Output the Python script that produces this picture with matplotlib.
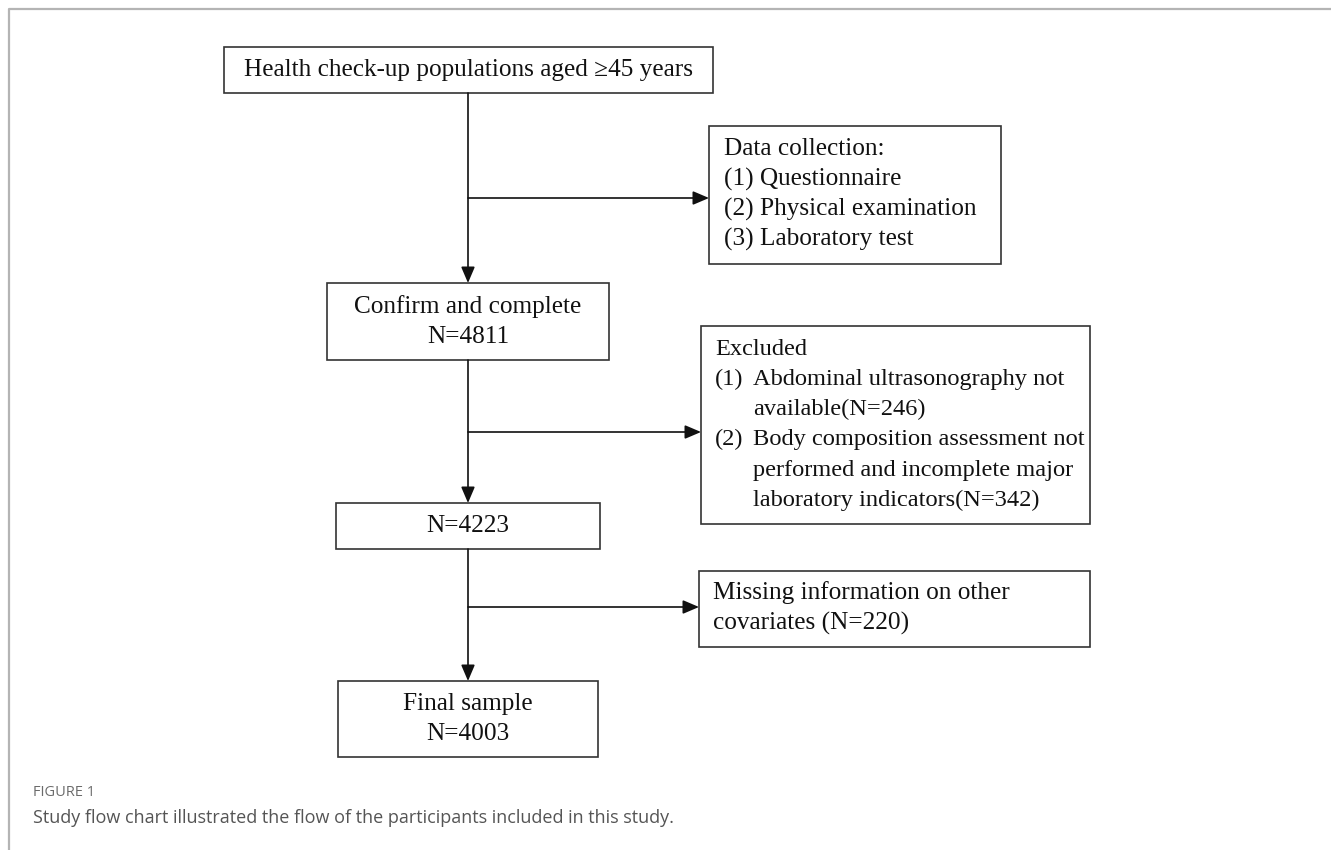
#!/usr/bin/env python3
"""
Study flow chart: participants included in the analysis.
Drawn on a pixel-sized canvas (1331 x 850) so the layout matches the figure.
"""

import matplotlib
matplotlib.use("Agg")
import matplotlib.pyplot as plt
from matplotlib.patches import Rectangle

# ---- chart content ----
main_steps = [
    ["Health check-up populations aged \u226545 years"],
    ["Confirm and complete", "N=4811"],
    ["N=4223"],
    ["Final sample", "N=4003"],
]
collect_title = "Data collection:"
collect_items = ["(1) Questionnaire", "(2) Physical examination", "(3) Laboratory test"]
excluded_title = "Excluded"
excluded_items = [
    ("(1)", ["Abdominal ultrasonography not", "available(N=246)"]),
    ("(2)", ["Body composition assessment not",
             "performed and incomplete major",
             "laboratory indicators(N=342)"]),
]
missing_lines = ["Missing information on other", "covariates (N=220)"]
fig_label = "FIGURE 1"
fig_caption = "Study flow chart illustrated the flow of the participants included in this study."

# ---- layout (pixels, y grows downwards) ----
W, H = 1331, 850
spine_x = 468
main_boxes = [(224, 47, 713, 93), (327, 283, 609, 360), (336, 503, 600, 549), (338, 681, 598, 757)]
side_boxes = [(709, 126, 1001, 264), (701, 326, 1090, 524), (699, 571, 1090, 647)]
branch_y = [198, 432, 607]
line_step = 30.3
serif = ["Liberation Serif", "DejaVu Serif"]
fs = 18.2
fs_excl = 17.6
edge = "#333333"

fig = plt.figure(figsize=(W / 100, H / 100), dpi=100)
ax = fig.add_axes([0, 0, 1, 1])
ax.set_xlim(0, W)
ax.set_ylim(H, 0)
ax.axis("off")

# page frame (left and top rules)
ax.plot([9, 9, W], [H, 9, 9], color="#b4b4b4", lw=1.6, solid_capstyle="butt")


def box(x0, y0, x1, y1):
    ax.add_patch(Rectangle((x0, y0), x1 - x0, y1 - y0, fill=False,
                           edgecolor=edge, lw=1.2))


def arrow(x0, y0, x1, y1):
    ax.annotate("", xy=(x1, y1), xytext=(x0, y0),
                arrowprops=dict(arrowstyle="-|>,head_length=0.75,head_width=0.32",
                                mutation_scale=13, color="#111111", lw=1.2,
                                shrinkA=0, shrinkB=0))


def text(x, y, s, ha="left", size=fs):
    ax.text(x, y, s, ha=ha, va="center", fontsize=size, family=serif, color="#111111")


# main column
for (x0, y0, x1, y1), lines in zip(main_boxes, main_steps):
    box(x0, y0, x1, y1)
    cy = (y0 + y1) / 2 - (len(lines) - 1) * line_step / 2
    for i, s in enumerate(lines):
        text((x0 + x1) / 2, cy + i * line_step, s, ha="center")

for upper, lower in zip(main_boxes[:-1], main_boxes[1:]):
    arrow(spine_x, upper[3], spine_x, lower[1])

# side branches
for (x0, y0, x1, y1), by in zip(side_boxes, branch_y):
    box(x0, y0, x1, y1)
    arrow(spine_x, by, x0, by)

# data collection box
bx = side_boxes[0]
for i, s in enumerate([collect_title] + collect_items):
    text(bx[0] + 15, 149 + i * line_step, s)

# excluded box with hanging indent
bx = side_boxes[1]
y = 349
text(bx[0] + 14, y, excluded_title, size=fs_excl)
for num, lines in excluded_items:
    y += line_step
    text(bx[0] + 14, y, num, size=fs_excl)
    for j, s in enumerate(lines):
        if j:
            y += line_step
        text(bx[0] + 52, y, s, size=fs_excl)

# missing covariates box
bx = side_boxes[2]
for i, s in enumerate(missing_lines):
    text(bx[0] + 14, 593 + i * line_step, s)

# caption
ax.text(33, 793, fig_label, ha="left", va="center", fontsize=10.5, family="Open Sans",
        color="#6b6b6b")
ax.text(33, 818, fig_caption, ha="left", va="center", fontsize=13, family="Open Sans",
        color="#555555")

plt.savefig("out.png", dpi=100)
